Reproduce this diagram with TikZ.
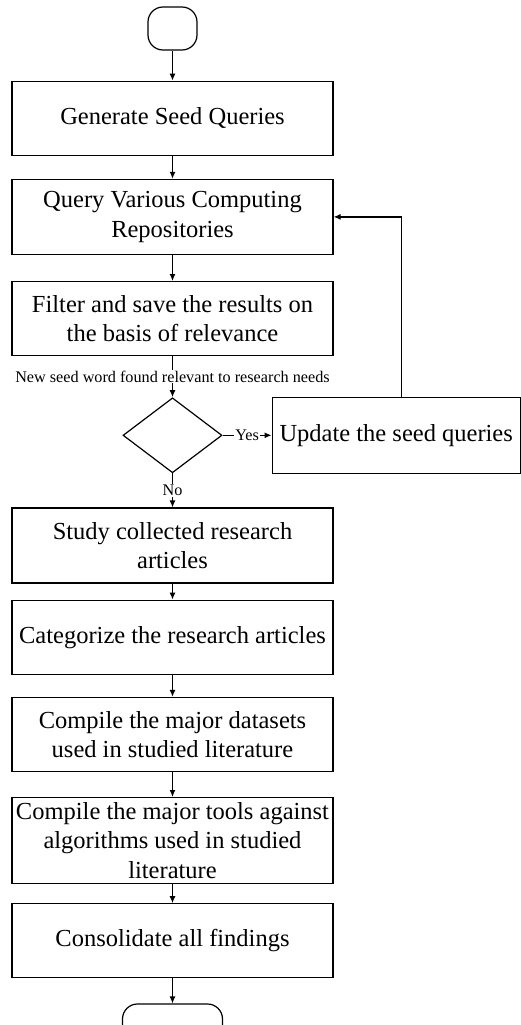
\documentclass[tikz,border=0pt]{standalone}
\usepackage{fontspec}
\setmainfont{Liberation Serif}
\usetikzlibrary{shapes, shapes.geometric, arrows.meta, positioning}

\begin{document}
\begin{tikzpicture}[x=1pt, y=1pt,
  line width=1.2pt,
  node distance=22pt,
  stepbox/.style={rectangle, draw, minimum width=321pt, minimum height=74pt,
    align=center, inner sep=2pt, font=\fontsize{24.5}{29.5}\selectfont},
  term/.style={rectangle, draw, rounded corners=15pt, minimum height=43pt},
  decide/.style={diamond, draw, minimum width=99pt, minimum height=75pt, inner sep=0pt},
  lab/.style={fill=white, inner sep=1pt, font=\fontsize{16.2}{18}\selectfont},
  flow/.style={-{Latex[length=7pt,width=6pt]}}]

  \useasboundingbox (0,0) rectangle (521,-1025);

  \node[term, minimum width=49pt] (start) at (172.5,-28.5) {};
  \node[stepbox, below=30pt of start] (seed) {Generate Seed Queries};
  \node[stepbox, below=23pt of seed, minimum height=75pt] (query) {Query Various Computing\\Repositories};
  \node[stepbox, below=26pt of query] (filter) {Filter and save the results on\\the basis of relevance};
  \node[decide, below=41pt of filter] (check) {};
  \node[stepbox, right=49pt of check, minimum width=248pt, minimum height=76pt] (update) {Update the seed queries};
  \node[stepbox, below=34pt of check, minimum height=75pt] (study) {Study collected research\\articles};
  \node[stepbox, below=16pt of study] (categ) {Categorize the research articles};
  \node[stepbox, below=22pt of categ] (datasets) {Compile the major datasets\\used in studied literature};
  \node[stepbox, below=25pt of datasets, minimum height=86pt] (tools) {Compile the major tools against\\algorithms used in studied\\literature};
  \node[stepbox, below=19pt of tools] (findings) {Consolidate all findings};
  \node[term, minimum width=100pt, below=25pt of findings] (stop) {};

  % main flow
  \draw[flow] (start) -- (seed);
  \draw[flow] (seed) -- (query);
  \draw[flow] (query) -- (filter);
  \draw[flow] (filter) -- node[lab] {New seed word found relevant to research needs} (check);
  \draw[flow] (check) -- node[lab] {Yes} (update);
  \draw[flow] (check) -- node[lab] {No} (study);
  \draw[flow] (study) -- (categ);
  \draw[flow] (categ) -- (datasets);
  \draw[flow] (datasets) -- (tools);
  \draw[flow] (tools) -- (findings);
  \draw[flow] (findings) -- (stop);

  % back to the repositories
  \draw[flow] ([xshift=5pt]update.north) |- (query.east);
\end{tikzpicture}
\end{document}
